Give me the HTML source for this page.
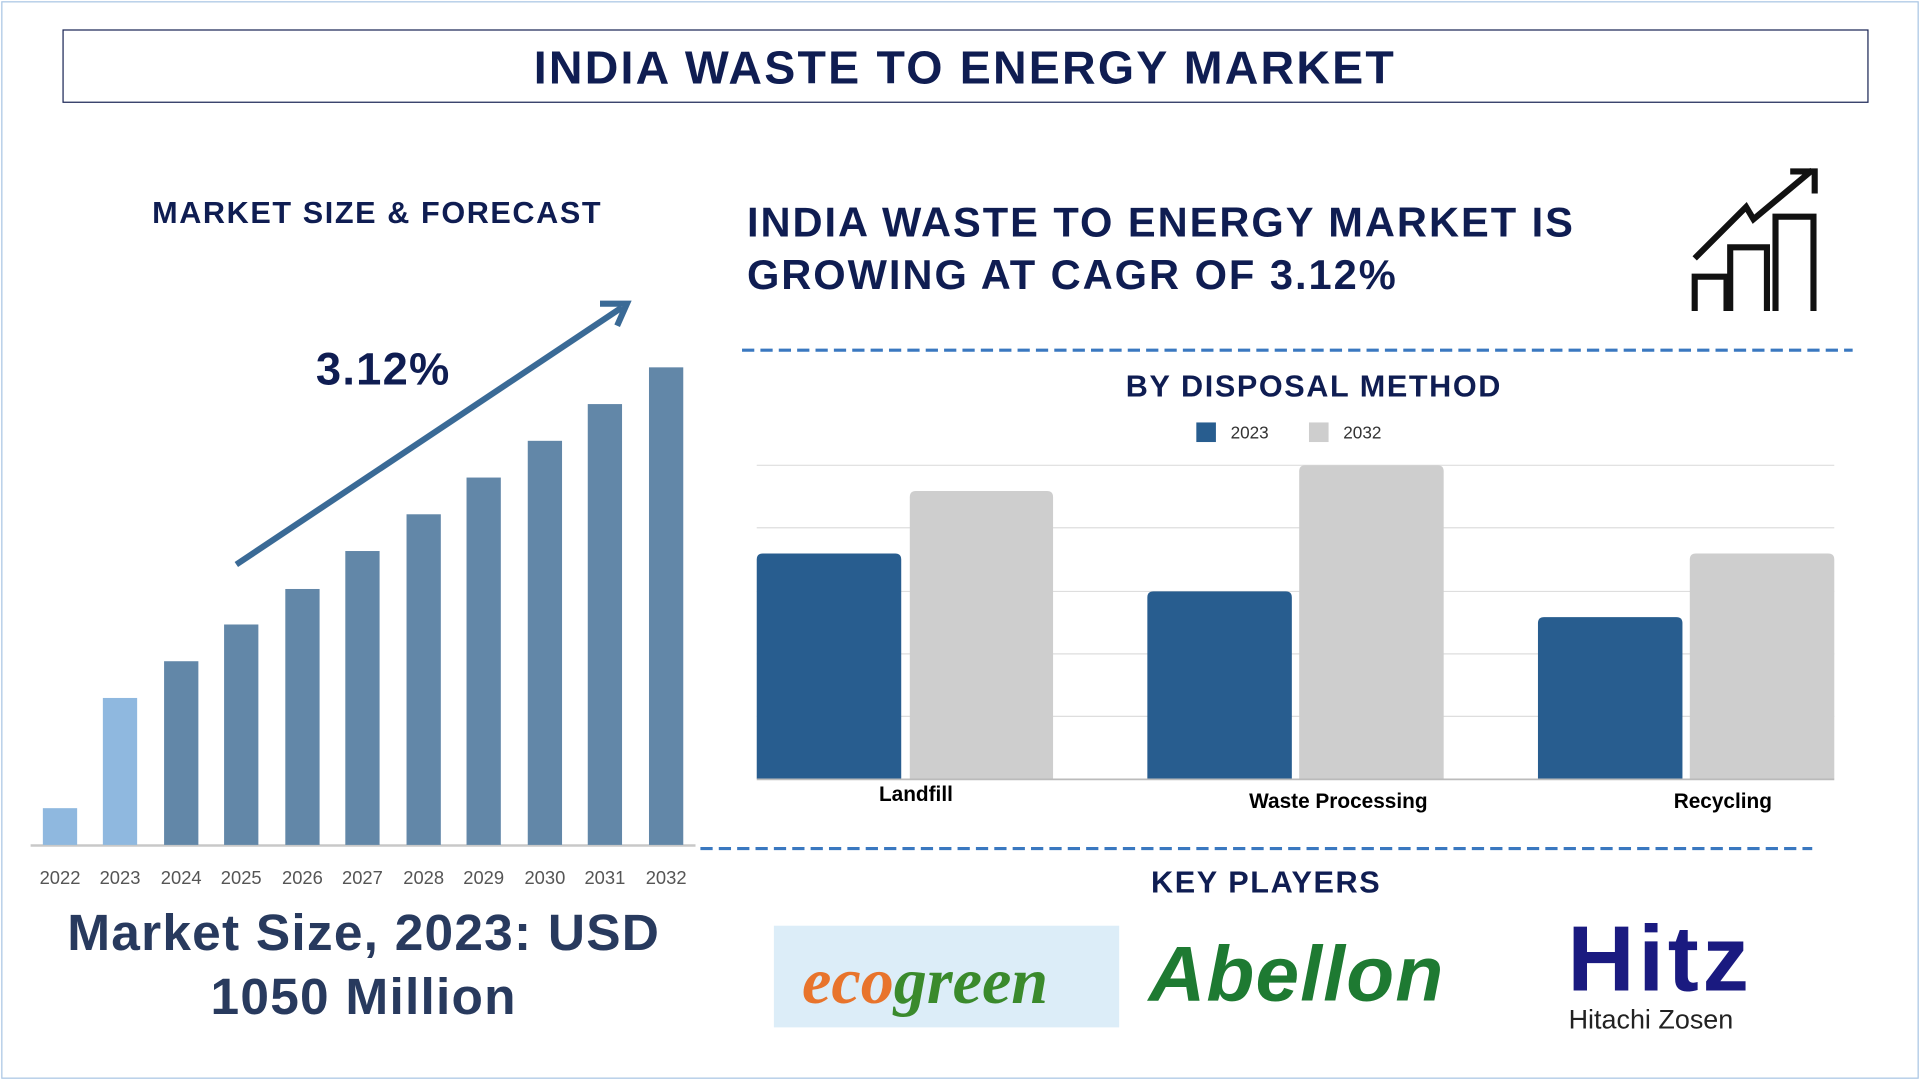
<!DOCTYPE html>
<html><head><meta charset="utf-8"><style>
html,body{margin:0;padding:0;background:#fff;overflow:hidden}
#w{position:absolute;left:0;top:0;width:1568px;height:882px;transform:scale(1.22449);transform-origin:0 0;font-family:"Liberation Sans",sans-serif}
.a{position:absolute;white-space:nowrap}
.c{transform:translateX(-50%)}
.n{color:#0f1d52;font-weight:bold}
</style></head><body><div id="w">
<div class="a" style="left:1px;top:1px;width:1564px;height:878px;border:1.5px solid #a9c6e4"></div>
<div class="a" style="left:51px;top:24px;width:1473px;height:58px;border:1.5px solid #1b2656"></div>
<div class="a n c" style="left:788px;top:35px;font-size:38px;letter-spacing:1.8px">INDIA WASTE TO ENERGY MARKET</div>
<div class="a n c" style="left:308px;top:160px;font-size:25px;letter-spacing:1.3px">MARKET SIZE &amp; FORECAST</div>
<svg class="a" style="left:0;top:0" width="1568" height="882">
<line x1="25" y1="690.5" x2="568" y2="690.5" stroke="#c8c8c8" stroke-width="2"/>
<g fill="#6287a8">
<rect x="35" y="660" width="28" height="30" fill="#8fb8df"/>
<rect x="84" y="570" width="28" height="120" fill="#8fb8df"/>
<rect x="134" y="540" width="28" height="150"/>
<rect x="183" y="510" width="28" height="180"/>
<rect x="233" y="481" width="28" height="209"/>
<rect x="282" y="450" width="28" height="240"/>
<rect x="332" y="420" width="28" height="270"/>
<rect x="381" y="390" width="28" height="300"/>
<rect x="431" y="360" width="28" height="330"/>
<rect x="480" y="330" width="28" height="360"/>
<rect x="530" y="300" width="28" height="390"/>
</g>
<g font-size="15" fill="#555" text-anchor="middle" font-family="Liberation Sans">
<text x="49" y="722">2022</text><text x="98" y="722">2023</text><text x="148" y="722">2024</text><text x="197" y="722">2025</text><text x="247" y="722">2026</text><text x="296" y="722">2027</text><text x="346" y="722">2028</text><text x="395" y="722">2029</text><text x="445" y="722">2030</text><text x="494" y="722">2031</text><text x="544" y="722">2032</text>
</g>
<line x1="193" y1="461" x2="508" y2="251" stroke="#3a6a96" stroke-width="5"/>
<polyline points="490,248 512,248 504,266" fill="none" stroke="#3a6a96" stroke-width="5"/>
<g fill="none" stroke="#111" stroke-width="5">
<path d="M1384 254V226h26v28"/><path d="M1413 254V202h30v52"/><path d="M1450 254V177h31v77"/>
<path d="M1384 211l42-42 6 10 48-40"/><path d="M1462 140h20v18"/>
</g>
<line x1="606" y1="286" x2="1513" y2="286" stroke="#3a78c0" stroke-width="2.5" stroke-dasharray="10 5"/>
<line x1="572" y1="693" x2="1480" y2="693" stroke="#3a78c0" stroke-width="2.5" stroke-dasharray="10 5"/>
<g stroke="#dedede" stroke-width="1"><line x1="618" y1="380" x2="1498" y2="380"/><line x1="618" y1="431" x2="1498" y2="431"/><line x1="618" y1="483" x2="1498" y2="483"/><line x1="618" y1="534" x2="1498" y2="534"/><line x1="618" y1="585" x2="1498" y2="585"/></g>
<g fill="#285d8f">
<path d="M618 636V457q0-5 5-5h108q5 0 5 5v179z"/>
<path d="M937 636V488q0-5 5-5h108q5 0 5 5v148z"/>
<path d="M1256 636V509q0-5 5-5h108q5 0 5 5v127z"/>
</g>
<g fill="#cecece">
<path d="M743 636V406q0-5 5-5h107q5 0 5 5v230z"/>
<path d="M1061 636V385q0-5 5-5h108q5 0 5 5v251z"/>
<path d="M1380 636V457q0-5 5-5h108q5 0 5 5v179z"/>
</g>
<line x1="618" y1="636.5" x2="1498" y2="636.5" stroke="#bbb" stroke-width="1.5"/>
<rect x="977" y="345" width="16" height="16" fill="#285d8f"/><rect x="1069" y="345" width="16" height="16" fill="#cecece"/>
<g font-size="14" fill="#333" font-family="Liberation Sans"><text x="1005" y="358">2023</text><text x="1097" y="358">2032</text></g>
<g font-size="17" font-weight="bold" fill="#000" text-anchor="middle" font-family="Liberation Sans"><text x="748" y="654">Landfill</text><text x="1093" y="660">Waste Processing</text><text x="1407" y="660">Recycling</text></g>
</svg>
<div class="a n" style="left:258px;top:281px;font-size:37px;letter-spacing:1px">3.12%</div>
<div class="a c" style="left:297px;top:736px;font-size:42px;font-weight:bold;color:#283a5e;text-align:center;line-height:52px;letter-spacing:1px">Market Size, 2023: USD<br>1050 Million</div>
<div class="a n" style="left:610px;top:161px;font-size:34px;line-height:43px;letter-spacing:1.6px">INDIA WASTE TO ENERGY MARKET IS<br>GROWING AT CAGR OF 3.12%</div>
<div class="a n c" style="left:1073px;top:302px;font-size:25px;letter-spacing:1.3px">BY DISPOSAL METHOD</div>
<div class="a n c" style="left:1034px;top:707px;font-size:25px;letter-spacing:1.3px">KEY PLAYERS</div>
<div class="a" style="left:632px;top:756px;width:282px;height:83px;background:#dcedf8"></div>
<div class="a" style="left:655px;top:770px;font-size:54px;font-weight:bold;font-style:italic;font-family:'Liberation Serif',serif;letter-spacing:0px"><span style="color:#e8742c">eco</span><span style="color:#3a8a2c">green</span></div>
<div class="a" style="left:938px;top:758px;font-size:64px;font-weight:bold;font-style:italic;color:#1e7a32;letter-spacing:1px">Abellon</div>
<div class="a" style="left:1280px;top:740px;font-size:76px;font-weight:bold;color:#1a1a80;letter-spacing:3px">Hitz</div>
<div class="a" style="left:1281px;top:820px;font-size:22px;color:#222">Hitachi Zosen</div>
</div></body></html>
